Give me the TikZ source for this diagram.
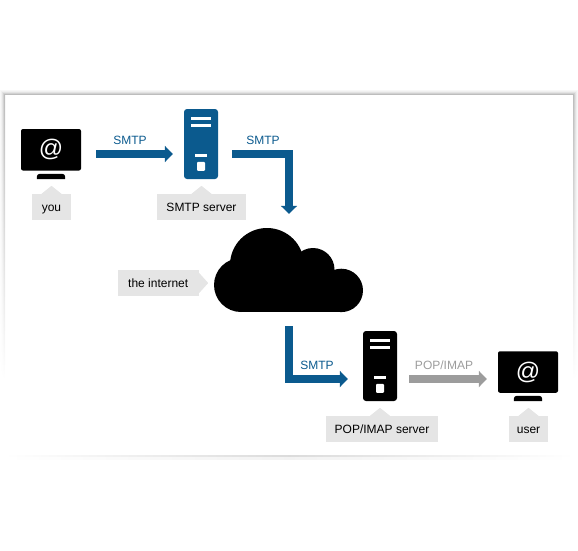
\documentclass[tikz,border=0pt]{standalone}
\usepackage{fontspec}
\setmainfont{Liberation Sans}
\usetikzlibrary{arrows.meta}
\definecolor{flowblue}{HTML}{0B5A8E}
\definecolor{flowgrey}{HTML}{9C9C9C}
\definecolor{taggrey}{HTML}{E5E5E5}
\tikzstyle{screen} = [fill=black, rounded corners=2pt, minimum width=60pt, minimum height=41.5pt, inner sep=0pt, text=white, font=\fontsize{24}{24}\selectfont]
\tikzstyle{stand} = [minimum width=28pt, minimum height=5pt, inner sep=0pt]
\tikzstyle{server} = [rounded corners=3pt, minimum width=34pt, minimum height=70pt, inner sep=0pt]
\tikzstyle{tag} = [rectangle, fill=taggrey, minimum height=26pt, inner sep=0pt, text height=10pt, text depth=2pt, font=\fontsize{12}{12}\selectfont]
\tikzstyle{flow} = [line width=8pt, -{Triangle[width=16pt,length=8pt]}, draw=flowblue]
\tikzstyle{flowtext} = [text=flowblue, font=\fontsize{12}{12}\selectfont, inner sep=0pt]
\newcommand{\serverbars}[1]{
\fill[white] ([shift={(-10pt,-8pt)}]#1.north) rectangle ++(20pt,-3pt);
\fill[white] ([shift={(-10pt,-15pt)}]#1.north) rectangle ++(20pt,-3pt);
\fill[white] ([shift={(-6pt,-45pt)}]#1.north) rectangle ++(12pt,-3pt);
\fill[white, rounded corners=1pt] ([shift={(-4pt,-53pt)}]#1.north) rectangle ++(8pt,-9pt);
}
\newcommand{\standfoot}[1]{
\fill[black, rounded corners=3pt] (#1.south west) -- (#1.north west) -- (#1.north east) [sharp corners] -- (#1.south east) -- cycle;
}
\newcommand{\tagtip}[2]{
\fill[taggrey] ([xshift=-10pt+#2]#1.north) -- ++(10pt,8pt) -- ++(10pt,-8pt) -- cycle;
}
\begin{document}
\begin{tikzpicture}[x=1pt,y=-1pt]
\useasboundingbox (0,0) rectangle (578,550);
%card with its shadow
\foreach \s/\k in {5/3,4/6,3/11,2/18,1/26}{
  \fill[black!\k] (5-\s,95-\s) rectangle (573+\s,96-\s);
  \shade[top color=black!\k, bottom color=white] (5-\s,95-\s+1) rectangle (6-\s,380);
  \shade[top color=black!\k, bottom color=white] (572+\s,95-\s+1) rectangle (573+\s,380);
}
\shade[left color=white, right color=white, middle color=black!14] (5,455) rectangle (573,457);
\shade[left color=white, right color=white, middle color=black!5] (5,457) rectangle (573,459);

%you
\node[screen] (you) at (51,149.75) {\raisebox{-1.5pt}{@}};
\node[stand] (youstand) at (51,176.5) {};
\standfoot{youstand}
\node[tag, minimum width=39pt] (youtag) at (51.5,207) {you};
\tagtip{youtag}{0pt}

%SMTP server
\node[server, fill=flowblue] (smtp) at (201,144) {};
\serverbars{smtp}
\node[tag, minimum width=89pt] (smtptag) at (201.5,207) {SMTP server};
\tagtip{smtptag}{0pt}

%the internet
\node[minimum width=149pt, minimum height=84pt, inner sep=0pt] (cloud) at (289,270) {};
\fill[black] (241,285) circle (27);
\fill[black] (267,265) circle (37);
\fill[black] (313,269.5) circle (21.5);
\fill[black] (341.3,290.4) circle (21.7);
\fill[black] (241,275) rectangle (341,312);
\node[tag, minimum width=81.5pt] (nettag) at (158.25,283) {the internet};
\fill[taggrey] ([yshift=10pt]nettag.east) -- ++(9pt,-10pt) -- ++(-9pt,-10pt) -- cycle;

%POP/IMAP server
\node[server, fill=black] (pop) at (380,366) {};
\serverbars{pop}
\node[tag, minimum width=112pt] (poptag) at (382,429) {POP/IMAP server};
\tagtip{poptag}{-2pt}

%user
\node[screen] (user) at (528,372) {\raisebox{-1.5pt}{@}};
\node[stand] (userstand) at (528,398.5) {};
\standfoot{userstand}
\node[tag, minimum width=39pt] (usertag) at (528.5,429) {user};
\tagtip{usertag}{0pt}

%connectors
\draw[flow, shorten <=15pt, shorten >=11pt] ([yshift=-4.25pt]you.east) -- ([yshift=-10pt]smtp.west);
\draw[flow, shorten <=14pt, shorten >=14pt] ([yshift=-10pt]smtp.east) -| (cloud.north);
\draw[flow, shorten <=14pt, shorten >=15pt] (cloud.south) |- ([yshift=-13pt]pop.west);
\draw[flow, draw=flowgrey, shorten <=12pt, shorten >=11pt] ([yshift=-13pt]pop.east) -- ([yshift=-7pt]user.west);

\node[flowtext] (lblone) at (130,140) {SMTP};
\node[flowtext] (lbltwo) at (263,140) {SMTP};
\node[flowtext] (lblthree) at (317,365.5) {SMTP};
\node[flowtext, text=flowgrey] (lblfour) at (444,365.5) {POP/IMAP};
\end{tikzpicture}
\end{document}
